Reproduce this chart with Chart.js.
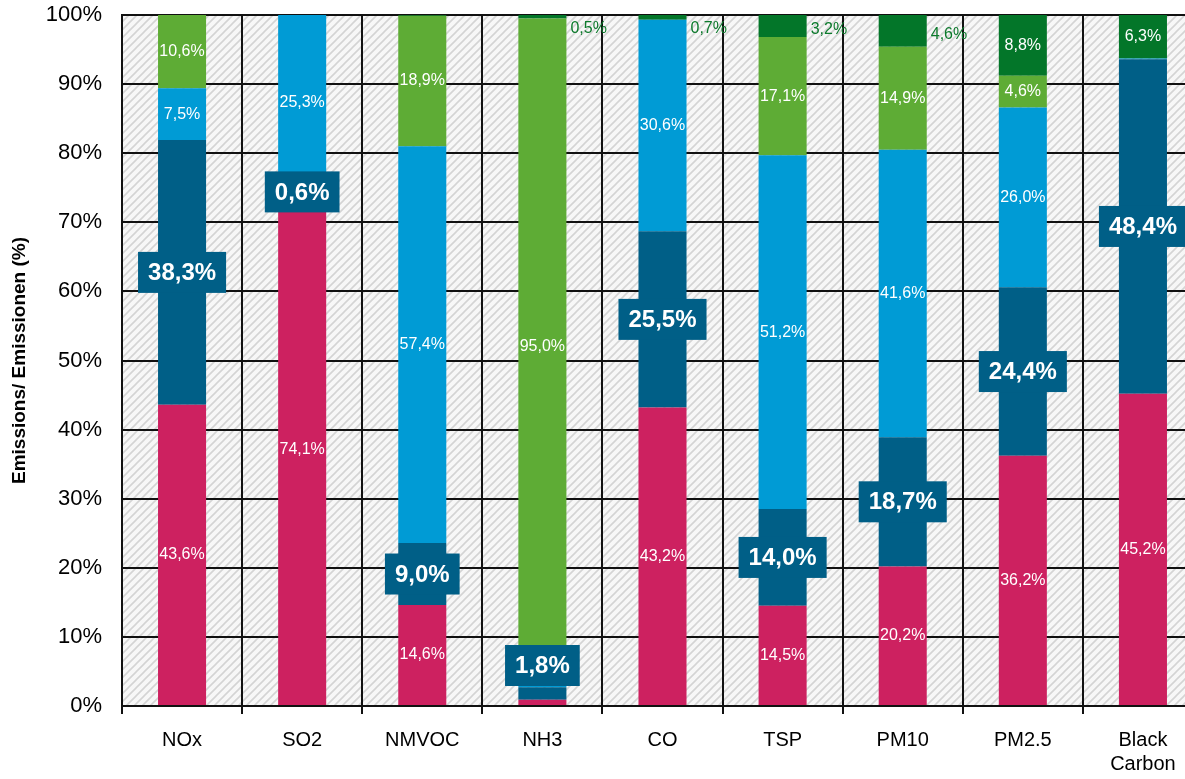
<!DOCTYPE html>
<html>
<head>
<meta charset="utf-8">
<script src="https://cdn.jsdelivr.net/npm/chart.js@4"></script>
<style>
html,body{margin:0;padding:0;background:#fff;overflow:hidden;}
#wrap{width:1205px;height:779px;position:relative;}
</style>
</head>
<body>
<div id="wrap"><canvas id="c"></canvas></div>
<script>
const categories = ['NOx','SO2','NMVOC','NH3','CO','TSP','PM10','PM2.5',['Black','Carbon']];
const pinkValues      = [43.6, 74.1, 14.6,  0.9, 43.2, 14.5, 20.2, 36.2, 45.2];
const darkBlueValues  = [38.3,  0.6,  9.0,  1.8, 25.5, 14.0, 18.7, 24.4, 48.4];
const lightBlueValues = [ 7.5, 25.3, 57.4,  1.8, 30.6, 51.2, 41.6, 26.0,  0.1];
const lightGreenValues= [10.6,  0.0, 18.9, 95.0,  0.0, 17.1, 14.9,  4.6,  0.0];
const darkGreenValues = [ 0.1,  0.1,  0.1,  0.5,  0.7,  3.2,  4.6,  8.8,  6.3];
const yTicks = [0,10,20,30,40,50,60,70,80,90,100];

const COLORS = {
  pink:'#cd2160', darkBlue:'#005f87', lightBlue:'#009bd5',
  lightGreen:'#5eac35', darkGreen:'#037629', outsideText:'#0c7a2c'
};
const FONT = "'Liberation Sans', Arial, sans-serif";

function fmt(v){ return v.toFixed(1).replace('.', ',') + '%'; }

function makePattern(){
  const p = document.createElement('canvas');
  p.width = 8; p.height = 8;
  const g = p.getContext('2d');
  g.fillStyle = '#f7f7f7'; g.fillRect(0,0,8,8);
  g.strokeStyle = '#d4d4d4'; g.lineWidth = 1.6;
  g.beginPath();
  g.moveTo(-2,10); g.lineTo(10,-2);
  g.moveTo(-2,2); g.lineTo(2,-2);
  g.moveTo(6,10); g.lineTo(10,6);
  g.stroke();
  return p;
}

const bgPlugin = {
  id:'hatchBg',
  beforeDraw(chart){
    const {ctx, chartArea:a} = chart;
    ctx.save();
    ctx.fillStyle = ctx.createPattern(makePattern(),'repeat');
    ctx.fillRect(a.left, a.top, a.right-a.left, a.bottom-a.top);
    ctx.restore();
  }
};

const labelPlugin = {
  id:'segLabels',
  afterDatasetsDraw(chart){
    const ctx = chart.ctx;
    const area = chart.chartArea;
    ctx.save();
    ctx.textAlign = 'center';
    ctx.textBaseline = 'middle';
    chart.data.datasets.forEach((ds, di) => {
      const meta = chart.getDatasetMeta(di);
      meta.data.forEach((el, i) => {
        const v = ds.data[i];
        const top = Math.min(el.y, el.base), bot = Math.max(el.y, el.base);
        const cy = (top + bot) / 2;
        const txt = fmt(v);
        if (ds.kind === 'box') {
          ctx.font = "bold 24px " + FONT;
          const w = ctx.measureText(txt).width + 20, h = 41;
          let y = cy;
          if (y + h/2 > area.bottom - 20) y = area.bottom - 20 - h/2;
          ctx.fillStyle = COLORS.darkBlue;
          ctx.fillRect(el.x - w/2, y - h/2, w, h);
          ctx.fillStyle = '#fff';
          ctx.fillText(txt, el.x, y + 1);
        } else if (ds.kind === 'top') {
          if (v < 0.5) return;
          ctx.font = "16px " + FONT;
          if (v >= 5) {
            ctx.fillStyle = '#fff';
            ctx.textAlign = 'center';
            ctx.fillText(txt, el.x, cy);
          } else {
            ctx.fillStyle = COLORS.outsideText;
            ctx.textAlign = 'left';
            ctx.fillText(txt, el.x + el.width/2 + 4, Math.max(cy + 4, area.top + 14));
            ctx.textAlign = 'center';
          }
        } else {
          if (v < 4) return;
          ctx.font = "16px " + FONT;
          ctx.fillStyle = '#fff';
          ctx.fillText(txt, el.x, cy);
        }
      });
    });
    ctx.restore();
  }
};

new Chart(document.getElementById('c'), {
  type:'bar',
  data:{
    labels: categories,
    datasets:[
      {label:'pink', data:pinkValues, backgroundColor:COLORS.pink, kind:'plain'},
      {label:'darkBlue', data:darkBlueValues, backgroundColor:COLORS.darkBlue, kind:'box'},
      {label:'lightBlue', data:lightBlueValues, backgroundColor:COLORS.lightBlue, kind:'plain'},
      {label:'lightGreen', data:lightGreenValues, backgroundColor:COLORS.lightGreen, kind:'plain'},
      {label:'darkGreen', data:darkGreenValues, backgroundColor:COLORS.darkGreen, kind:'top'}
    ]
  },
  options:{
    responsive:true, maintainAspectRatio:false, animation:false,
    layout:{padding:{top:15,left:0,right:2,bottom:0}},
    datasets:{bar:{barPercentage:1, categoryPercentage:0.4, borderWidth:0}},
    plugins:{legend:{display:false}, tooltip:{enabled:false}},
    scales:{
      x:{
        stacked:true,
        grid:{offset:true, color:'#111', lineWidth:2, tickLength:8, drawOnChartArea:true},
        border:{color:'#111', width:2},
        ticks:{color:'#000', font:{family:FONT, size:20}, padding:14, maxRotation:0, autoSkip:false},
        afterFit(s){ s.height = 73; }
      },
      y:{
        stacked:true, min:0, max:100,
        afterBuildTicks(s){ s.ticks = yTicks.map(v => ({value:v})); },
        grid:{color:'#111', lineWidth:2, drawTicks:false},
        border:{color:'#111', width:2},
        ticks:{color:'#000', font:{family:FONT, size:22}, padding:20, callback:v => v + '%'},
        title:{display:true, text:'Emissions/ Emissionen (%)', color:'#000',
               font:{family:FONT, size:19, weight:'bold'}, padding:{top:8,bottom:4}},
        afterFit(s){ s.width = 122; s.paddingTop = 0; }
      }
    }
  },
  plugins:[bgPlugin, labelPlugin]
});
</script>
</body>
</html>
